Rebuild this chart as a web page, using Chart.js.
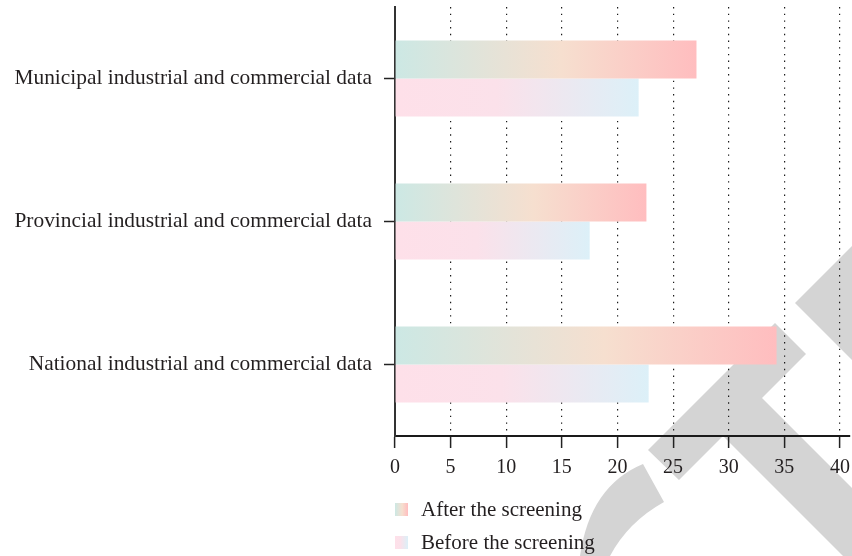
<!DOCTYPE html>
<html>
<head>
<meta charset="utf-8">
<script src="https://cdn.jsdelivr.net/npm/chart.js@4/dist/chart.umd.min.js"></script>
<style>
  html, body { margin: 0; padding: 0; background: #fff; }
  #wrap { position: relative; width: 852px; height: 556px; }
  #legend { position: absolute; left: 395px; top: 493px; font-family: "Liberation Serif", serif; font-size: 21px; color: #231f20; }
  .item { display: flex; align-items: center; height: 33px; }
  .sw { width: 13px; height: 13px; margin-right: 13px; }
</style>
</head>
<body>
<div id="wrap">
  <canvas id="c" width="852" height="556"></canvas>
  <div id="legend"></div>
</div>
<script>
// Categories (top to bottom)
const categories = [
  'Municipal industrial and commercial data',
  'Provincial industrial and commercial data',
  'National industrial and commercial data'
];
// Series values
const afterScreening = [27.1, 22.6, 34.3];
const beforeScreening = [21.9, 17.5, 22.8];
const seriesNames = ['After the screening', 'Before the screening'];
// Value-axis tick labels
const xTicks = [0, 5, 10, 15, 20, 25, 30, 35, 40];

// Gradient stops for each series (left -> right along each bar)
const afterStops = [[0, '#cce8e4'], [0.55, '#f6dfcf'], [1, '#ffbdbf']];
const beforeStops = [[0, '#fee0e9'], [0.42, '#fbe1ea'], [1, '#dcf0f8']];

const textColor = '#231f20';
const serif = '"Liberation Serif", "Times New Roman", serif';

function barGradient(stops) {
  return function (ctx) {
    const chart = ctx.chart;
    const x = chart.scales.x;
    if (!chart.chartArea || !x || ctx.raw == null) return stops[0][1];
    const x0 = x.getPixelForValue(0);
    const x1 = x.getPixelForValue(ctx.raw);
    const g = chart.ctx.createLinearGradient(x0, 0, x1, 0);
    stops.forEach(s => g.addColorStop(s[0], s[1]));
    return g;
  };
}

// White page plus the grey decorative strokes behind the plot
const backdrop = {
  id: 'backdrop',
  beforeDraw(chart) {
    const c = chart.ctx;
    c.save();
    c.fillStyle = '#ffffff';
    c.fillRect(0, 0, chart.width, chart.height);
    c.fillStyle = '#d4d4d4';
    // crossing strokes
    c.beginPath();
    c.moveTo(648, 450);
    c.lineTo(775, 323);
    c.lineTo(806, 354);
    c.lineTo(762, 398);
    c.lineTo(852, 488);
    c.lineTo(852, 556);
    c.lineTo(843, 556);
    c.lineTo(723, 436);
    c.lineTo(679, 480);
    c.closePath();
    c.fill();
    // chevron tip at the right edge
    c.beginPath();
    c.moveTo(795, 303);
    c.lineTo(852, 246);
    c.lineTo(852, 360);
    c.closePath();
    c.fill();
    // curved stroke
    c.beginPath();
    c.moveTo(643, 464);
    c.lineTo(664, 502);
    c.quadraticCurveTo(628, 522, 610, 556);
    c.lineTo(580, 556);
    c.quadraticCurveTo(590, 486, 643, 464);
    c.closePath();
    c.fill();
    c.restore();
  }
};

const chart = new Chart(document.getElementById('c'), {
  type: 'bar',
  data: {
    labels: categories,
    datasets: [
      { label: seriesNames[0], data: afterScreening, backgroundColor: barGradient(afterStops), borderWidth: 0 },
      { label: seriesNames[1], data: beforeScreening, backgroundColor: barGradient(beforeStops), borderWidth: 0 }
    ]
  },
  options: {
    indexAxis: 'y',
    responsive: false,
    animation: false,
    devicePixelRatio: 1,
    categoryPercentage: 0.533,
    barPercentage: 1,
    layout: { padding: { top: 7, right: 2, left: 0, bottom: 0 } },
    plugins: {
      legend: { display: false },
      tooltip: { enabled: false }
    },
    scales: {
      x: {
        type: 'linear',
        position: 'bottom',
        min: 0,
        max: 40.9,
        afterBuildTicks: s => { s.ticks = xTicks.map(v => ({ value: v })); },
        afterFit: s => {
          s.height = 120;
          s.paddingLeft = 0; s.paddingRight = 0;
        },
        grid: {
          color: '#1a1a1a',
          lineWidth: 1.2,
          drawOnChartArea: true,
          drawTicks: true,
          tickLength: 12,
          tickColor: '#222',
          tickWidth: 1.5,
          tickBorderDash: []
        },
        border: { display: true, color: '#1a1a1a', width: 2, dash: [1.4, 5.3] },
        ticks: {
          color: textColor,
          padding: 8,
          font: { family: serif, size: 20 },
          callback: v => String(v)
        }
      },
      y: {
        type: 'category',
        position: 'left',
        afterFit: s => {
          s.width = 395;
          s.paddingTop = 0; s.paddingBottom = 0;
        },
        grid: {
          offset: false,
          drawOnChartArea: false,
          drawTicks: true,
          tickLength: 11,
          tickColor: '#222',
          tickWidth: 1.5
        },
        border: { display: true, color: '#333', width: 2 },
        ticks: {
          color: textColor,
          padding: 12,
          font: { family: serif, size: 21.4 }
        }
      }
    }
  },
  plugins: [backdrop]
});

// Legend: one entry per row under the value axis
const legendEl = document.getElementById('legend');
[afterStops, beforeStops].forEach((stops, i) => {
  const row = document.createElement('div');
  row.className = 'item';
  const sw = document.createElement('span');
  sw.className = 'sw';
  sw.style.background = 'linear-gradient(to right, ' + stops.map(s => s[1] + ' ' + (s[0] * 100) + '%').join(', ') + ')';
  const tx = document.createElement('span');
  tx.textContent = seriesNames[i];
  row.appendChild(sw);
  row.appendChild(tx);
  legendEl.appendChild(row);
});
</script>
</body>
</html>
